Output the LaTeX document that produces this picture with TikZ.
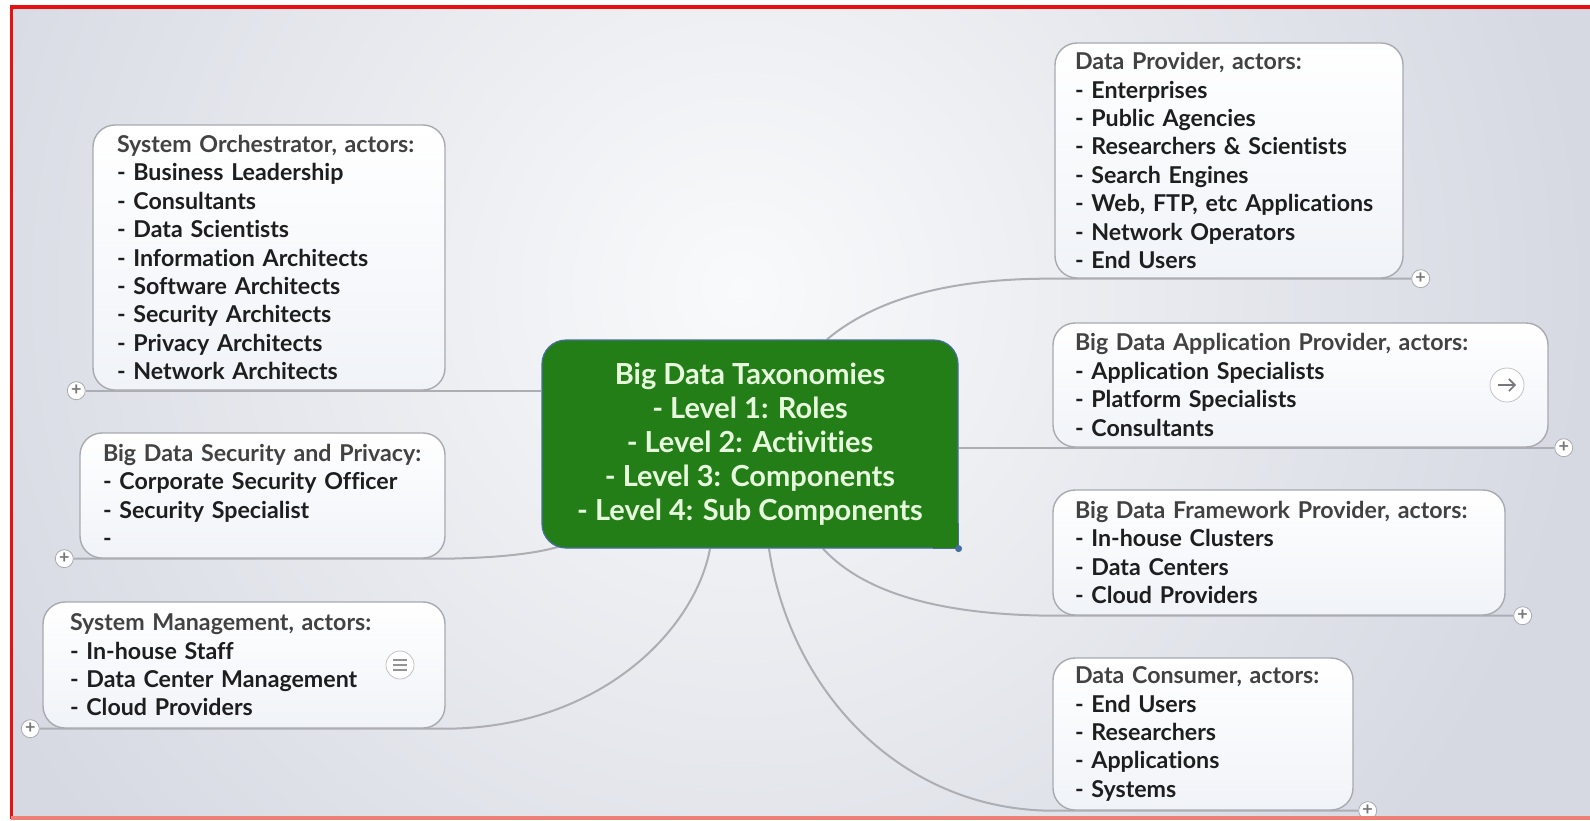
\documentclass[tikz,border=0pt]{standalone}
\usepackage{fontspec}
\setmainfont{Lato}[Ligatures=NoCommon]
\usetikzlibrary{calc,backgrounds,arrows.meta}

\definecolor{rootgreen}{RGB}{36,126,24}
\definecolor{rootline}{RGB}{70,110,160}
\definecolor{roottext}{RGB}{232,250,222}
\definecolor{boxline}{RGB}{168,170,176}
\definecolor{boxbot}{RGB}{240,243,248}
\definecolor{titletext}{RGB}{66,66,66}
\definecolor{itemtext}{RGB}{30,30,30}
\definecolor{linegray}{RGB}{172,174,180}
\definecolor{bgin}{RGB}{249,250,251}
\definecolor{bgout}{RGB}{214,217,226}
\definecolor{frame}{RGB}{232,16,16}
\definecolor{framelow}{RGB}{240,128,118}
\definecolor{icongray}{RGB}{120,120,124}

\newcommand{\ttl}[1]{\mbox{\color{titletext}#1}}

\begin{document}
\begin{tikzpicture}[x=0.5pt,y=-0.5pt]
  \tikzstyle{box}=[draw=boxline, line width=0.7pt, rounded corners=11pt,
    top color=white, bottom color=boxbot, inner xsep=11pt, inner ysep=0pt,
    align=left, text=itemtext, font=\fontsize{11.6}{14.2}\selectfont\bfseries]
  \tikzstyle{root}=[fill=rootgreen, draw=rootline, line width=0.6pt,
    rounded corners=12pt, minimum width=208pt, minimum height=104pt,
    align=center, text=roottext, font=\fontsize{14.5}{17}\selectfont\bfseries]
  \tikzstyle{toggle}=[circle, draw=boxline, fill=white, minimum size=9pt,
    inner sep=0pt, text=icongray, font=\fontsize{9}{9}\selectfont\bfseries]
  \tikzstyle{icon}=[circle, draw=boxline!70, fill=white, inner sep=0pt]
  \tikzstyle{branch}=[draw=linegray, line width=1pt]

  \useasboundingbox (0,0) rectangle (1590,820);

  % Central topic
  \node[root] (root) at (750,444) {Big Data Taxonomies\\- Level 1: Roles\\- Level 2: Activities\\- Level 3: Components\\- Level 4: Sub Components};
  \fill[rootgreen] ($(root.south east)+(-26,0)$) rectangle ($(root.south east)+(0,-26)$);
  \draw[rootline, line width=0.6pt] ($(root.south east)+(-26,0)$) -- (root.south east) -- ($(root.south east)+(0,-26)$);
  \fill[rootline] (root.south east) circle (3.5);

  % Left branches
  \node[box, inner xsep=12pt, text width=152pt, minimum height=132.5pt] (orch) at (269,257.5)
    {\ttl{System Orchestrator, actors:}\\- Business Leadership\\- Consultants\\- Data Scientists\\- Information Architects\\- Software Architects\\- Security Architects\\- Privacy Architects\\- Network Architects};
  \node[box, inner xsep=11.5pt, text width=159.5pt, minimum height=62.5pt] (secu) at (262.5,495.5)
    {\ttl{Big Data Security and Privacy:}\\- Corporate Security Officer\\- Security Specialist\\-};
  \node[box, inner xsep=13.5pt, text width=174pt, minimum height=63pt] (mgmt) at (244,665)
    {\ttl{System Management, actors:}\\- In-house Staff\\- Data Center Management\\- Cloud Providers};

  % Right branches
  \node[box, inner xsep=10pt, text width=154pt, minimum height=117.5pt] (prov) at (1229,160.5)
    {\ttl{Data Provider, actors:}\\- Enterprises\\- Public Agencies\\- Researchers \& Scientists\\- Search Engines\\- Web, FTP, etc Applications\\- Network Operators\\- End Users};
  \node[box, text width=225.5pt, minimum height=62pt] (appl) at (1300.5,385)
    {\ttl{Big Data Application Provider, actors:}\\- Application Specialists\\- Platform Specialists\\- Consultants};
  \node[box, text width=204pt, minimum height=62.5pt] (fram) at (1279,552.5)
    {\ttl{Big Data Framework Provider, actors:}\\- In-house Clusters\\- Data Centers\\- Cloud Providers};
  \node[box, text width=128pt, minimum height=76pt] (cons) at (1203,734)
    {\ttl{Data Consumer, actors:}\\- End Users\\- Researchers\\- Applications\\- Systems};

  % Collapse buttons
  \node[toggle] (orch-p) at ($(orch.south west)+(-16,0)$) {+};
  \node[toggle] (secu-p) at ($(secu.south west)+(-15,0)$) {+};
  \node[toggle] (mgmt-p) at ($(mgmt.south west)+(-12,0)$) {+};
  \node[toggle] (prov-p) at ($(prov.south east)+(17,0)$) {+};
  \node[toggle] (appl-p) at ($(appl.south east)+(15,0)$) {+};
  \node[toggle] (fram-p) at ($(fram.south east)+(17,0)$) {+};
  \node[toggle] (cons-p) at ($(cons.south east)+(14,0)$) {+};

  % Icons
  \node[icon, minimum size=17pt] (applicon) at (1507,385) {};
  \draw[icongray, line width=0.8pt, -{Straight Barb[length=3pt,width=6pt]}]
    ($(applicon.center)+(-9,0)$) -- ($(applicon.center)+(9,0)$);
  \node[icon, minimum size=14pt] (mgmticon) at (400,665) {};
  \foreach \dy in {-5,0,5}
    \draw[icongray!80, line width=0.8pt] ($(mgmticon.center)+(-7,\dy)$) -- ($(mgmticon.center)+(7,\dy)$);

  % Frame
  \draw[frame, line width=2pt] (10,7) -- (1590,7);
  \draw[frame, line width=1.6pt] (11.5,5) -- (11.5,819);
  \draw[framelow, line width=1.6pt] (11,818) -- (1590,818);

  \begin{pgfonlayer}{background}
    % Background
    \begin{scope}
      \clip (13,9) rectangle (1590,817);
      \shade[inner color=bgin, outer color=bgout] (-110,-560) rectangle (1590,1140);
    \end{scope}
    % Connect nodes
    \draw[branch] (root.west |- orch.south) -- (orch-p);
    \draw[branch] ($(root.south west)+(21,-3)$) .. controls (530,556) and (480,558) .. (secu.south east) -- (secu-p);
    \draw[branch] ($(root.south)+(-40,0)$) .. controls (695,630) and (600,728) .. (mgmt.south east) -- (mgmt-p);
    \draw[branch] ($(root.north)+(77,0)$) .. controls (880,295) and (960,278) .. (prov.south west) -- (prov-p);
    \draw[branch] (root.east |- appl.south) -- (appl-p);
    \draw[branch] ($(root.south)+(73,0)$) .. controls (870,600) and (960,615) .. (fram.south west) -- (fram-p);
    \draw[branch] ($(root.south)+(19,0)$) .. controls (790,690) and (900,810) .. (cons.south west) -- (cons-p);
  \end{pgfonlayer}
\end{tikzpicture}
\end{document}
